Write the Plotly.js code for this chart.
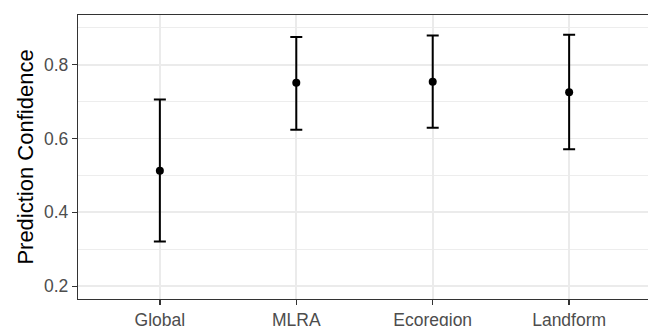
<!DOCTYPE html>
<html>
<head>
<meta charset="utf-8">
<script src="https://cdn.plot.ly/plotly-3.0.1.min.js"></script>
<style>html,body{margin:0;padding:0;overflow:hidden;background:#fff;}#chart{width:652px;height:326px;}</style>
</head>
<body>
<div id="chart"></div>
<script>
var categories = ["Global", "MLRA", "Ecoregion", "Landform"];
var meanConf = [0.513, 0.751, 0.754, 0.725];
var upperConf = [0.706, 0.875, 0.879, 0.881];
var lowerConf = [0.321, 0.624, 0.629, 0.571];
var yTicks = [0.2, 0.4, 0.6, 0.8];

var errPlus = meanConf.map(function(m, i){ return upperConf[i] - m; });
var errMinus = meanConf.map(function(m, i){ return m - lowerConf[i]; });

var trace = {
  type: "scatter",
  mode: "markers",
  x: categories,
  y: meanConf,
  marker: {color: "#000000", size: 8},
  error_y: {
    type: "data",
    symmetric: false,
    array: errPlus,
    arrayminus: errMinus,
    color: "#000000",
    thickness: 2,
    width: 6
  },
  hoverinfo: "none",
  showlegend: false
};

var layout = {
  width: 652,
  height: 326,
  margin: {l: 78, r: 1, t: 15, b: 27, pad: 0},
  paper_bgcolor: "#ffffff",
  plot_bgcolor: "#ffffff",
  font: {family: "Liberation Sans, Arial, sans-serif", color: "#4d4d4d"},
  xaxis: {
    type: "category",
    range: [-0.6, 3.6],
    showgrid: true,
    gridcolor: "#ebebeb",
    gridwidth: 1.8,
    showline: true,
    mirror: true,
    linecolor: "#333333",
    linewidth: 1.2,
    ticks: "outside",
    ticklen: 5,
    tickwidth: 1.3,
    tickcolor: "#333333",
    tickfont: {size: 17.5, color: "#4d4d4d"},
    zeroline: false,
    fixedrange: true
  },
  yaxis: {
    range: [0.1654, 0.9345],
    tickvals: yTicks,
    ticktext: yTicks.map(function(v){ return v.toFixed(1); }),
    showgrid: true,
    gridcolor: "#ebebeb",
    gridwidth: 1.8,
    minor: {dtick: 0.1, tick0: 0.1, showgrid: true, gridcolor: "#ebebeb", gridwidth: 0.9, ticks: ""},
    showline: true,
    mirror: true,
    linecolor: "#333333",
    linewidth: 1.2,
    ticks: "outside",
    ticklen: 5,
    tickwidth: 1.3,
    tickcolor: "#333333",
    tickfont: {size: 17.5, color: "#4d4d4d"},
    zeroline: false,
    title: {text: "Prediction Confidence", font: {size: 22, color: "#000000"}, standoff: 4},
    fixedrange: true
  }
};

Plotly.newPlot("chart", [trace], layout, {displayModeBar: false, staticPlot: true});
</script>
</body>
</html>
